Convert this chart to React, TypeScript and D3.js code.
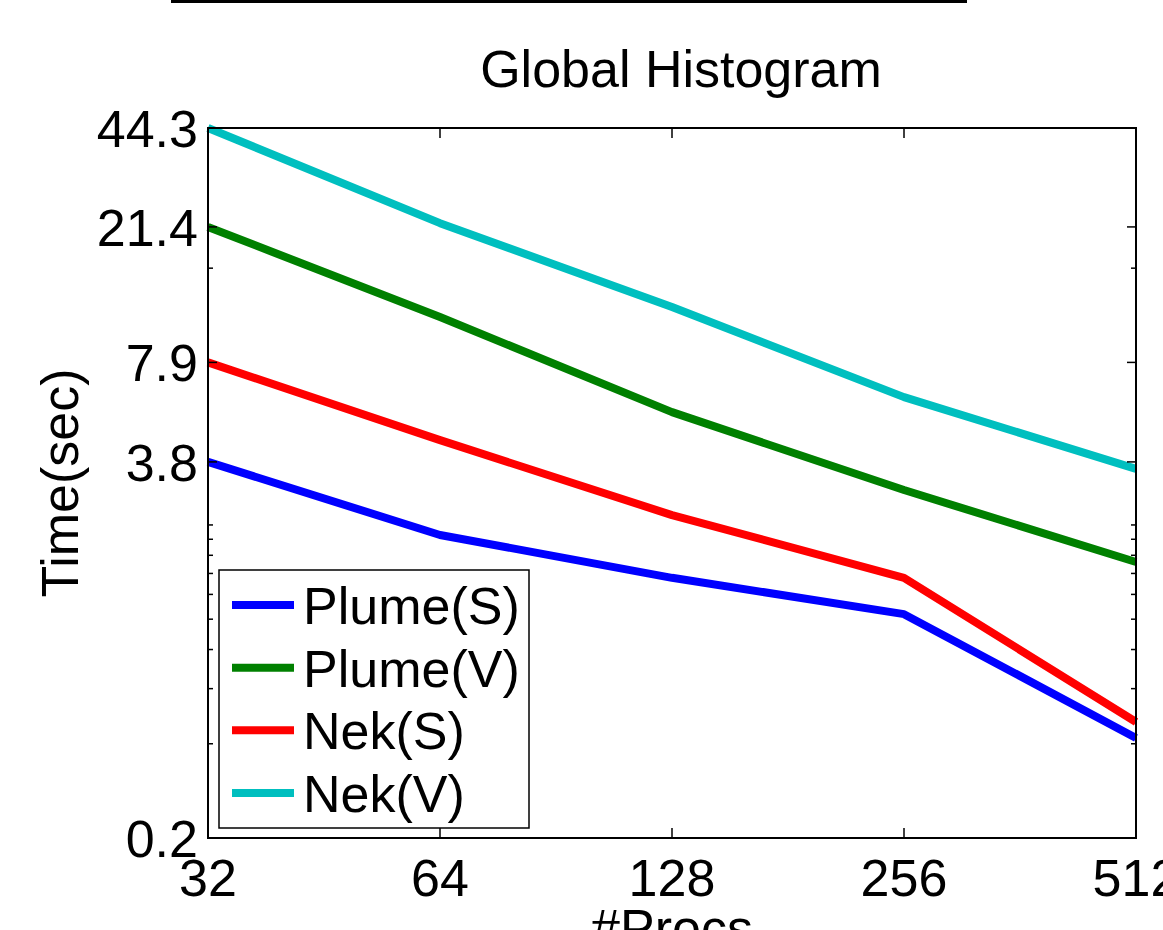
import React, { useEffect, useRef } from 'react';
import * as d3 from 'd3';

// #Procs on the x axis
const procs = [32, 64, 128, 256, 512];

// time (sec) per series
const plumeS = [3.8, 2.22, 1.62, 1.24, 0.499];
const plumeV = [21.4, 11.03, 5.48, 3.09, 1.82];
const nekS = [7.9, 4.46, 2.57, 1.62, 0.561];
const nekV = [44.3, 22.0, 11.87, 6.12, 3.61];

const seriesNames = ['Plume(S)', 'Plume(V)', 'Nek(S)', 'Nek(V)'];
const seriesColors = ['#0000ff', '#008000', '#ff0000', '#00bfbf'];

const yTicks = [0.239, 3.8, 7.9, 21.4, 44.3];
const yMinorTicks = [0.478, 0.717, 0.956, 1.195, 1.434, 1.673, 1.912, 2.151, 2.39, 15.8];

const FONT = '"Liberation Sans", Arial, Helvetica, sans-serif';

function App() {
  const ref = useRef<SVGSVGElement>(null);

  function drawChart() {
    const W = 1163, H = 930;
    const margin = { top: 128, right: 27, bottom: 92, left: 208 };
    const left = margin.left, right = W - margin.right;
    const top = margin.top, bottom = H - margin.bottom;

    const svg = d3.select(ref.current);
    svg.selectAll('*').remove();

    const x = d3.scaleLog().base(2)
      .domain([32, 512])
      .range([left, right]);

    const y = d3.scaleLog()
      .domain([0.239, 44.3])
      .range([bottom, top]);

    // stray line at the very top of the figure
    svg.append('rect')
      .attr('x', 171).attr('y', 0)
      .attr('width', 796).attr('height', 3)
      .attr('fill', '#000');

    svg.append('text')
      .attr('x', 681).attr('y', 87)
      .attr('text-anchor', 'middle')
      .attr('font-family', FONT)
      .attr('font-size', 52)
      .text('Global Histogram');

    const data = [plumeS, plumeV, nekS, nekV];

    const line = d3.line<number>()
      .x((d, i) => x(procs[i]))
      .y(d => y(d));

    svg.append('g')
      .selectAll('path')
      .data(data)
      .join('path')
      .attr('d', d => line(d))
      .attr('fill', 'none')
      .attr('stroke', (d, i) => seriesColors[i])
      .attr('stroke-width', 8)
      .attr('stroke-linejoin', 'round');

    // ticks, drawn inward on all four sides
    const ticks = svg.append('g').attr('stroke', '#000').attr('stroke-width', 1.5);
    yTicks.forEach(v => {
      ticks.append('line').attr('x1', left).attr('x2', left + 9).attr('y1', y(v)).attr('y2', y(v));
      ticks.append('line').attr('x1', right).attr('x2', right - 9).attr('y1', y(v)).attr('y2', y(v));
    });
    yMinorTicks.forEach(v => {
      ticks.append('line').attr('x1', left).attr('x2', left + 5).attr('y1', y(v)).attr('y2', y(v));
      ticks.append('line').attr('x1', right).attr('x2', right - 5).attr('y1', y(v)).attr('y2', y(v));
    });
    procs.forEach(p => {
      ticks.append('line').attr('x1', x(p)).attr('x2', x(p)).attr('y1', bottom).attr('y2', bottom - 10);
      ticks.append('line').attr('x1', x(p)).attr('x2', x(p)).attr('y1', top).attr('y2', top + 10);
    });

    // axes box
    svg.append('rect')
      .attr('x', left).attr('y', top)
      .attr('width', right - left).attr('height', bottom - top)
      .attr('fill', 'none')
      .attr('stroke', '#000')
      .attr('stroke-width', 2);

    svg.append('g')
      .selectAll('text')
      .data(yTicks)
      .join('text')
      .attr('x', left - 10)
      .attr('y', d => y(d) + 19)
      .attr('text-anchor', 'end')
      .attr('font-family', FONT)
      .attr('font-size', 52)
      .text(d => d3.format('.1f')(d));

    svg.append('g')
      .selectAll('text')
      .data(procs)
      .join('text')
      .attr('x', d => x(d))
      .attr('y', bottom + 58)
      .attr('text-anchor', 'middle')
      .attr('font-family', FONT)
      .attr('font-size', 52)
      .text(d => d);

    svg.append('text')
      .attr('x', 672).attr('y', 946)
      .attr('text-anchor', 'middle')
      .attr('font-family', FONT)
      .attr('font-size', 52)
      .text('#Procs');

    svg.append('text')
      .attr('transform', `translate(78,${(top + bottom) / 2}) rotate(-90)`)
      .attr('text-anchor', 'middle')
      .attr('font-family', FONT)
      .attr('font-size', 52)
      .text('Time(sec)');

    // legend
    const lg = svg.append('g');
    lg.append('rect')
      .attr('x', 219).attr('y', 570)
      .attr('width', 310).attr('height', 258)
      .attr('fill', '#fff')
      .attr('stroke', '#000')
      .attr('stroke-width', 1.5);
    const rowY = d3.scaleLinear().domain([0, 3]).range([605, 793]);
    seriesNames.forEach((name, i) => {
      lg.append('line')
        .attr('x1', 232).attr('x2', 294)
        .attr('y1', rowY(i)).attr('y2', rowY(i))
        .attr('stroke', seriesColors[i])
        .attr('stroke-width', 8);
      lg.append('text')
        .attr('x', 303).attr('y', rowY(i) + 19)
        .attr('font-family', FONT)
        .attr('font-size', 52)
        .text(name);
    });
  }

  useEffect(() => {
    drawChart();
  }, []);

  return (
    <svg ref={ref} width={1163} height={930}
      style={{ position: 'absolute', left: 0, top: 0, background: '#fff' }} />
  );
}

export default App;
